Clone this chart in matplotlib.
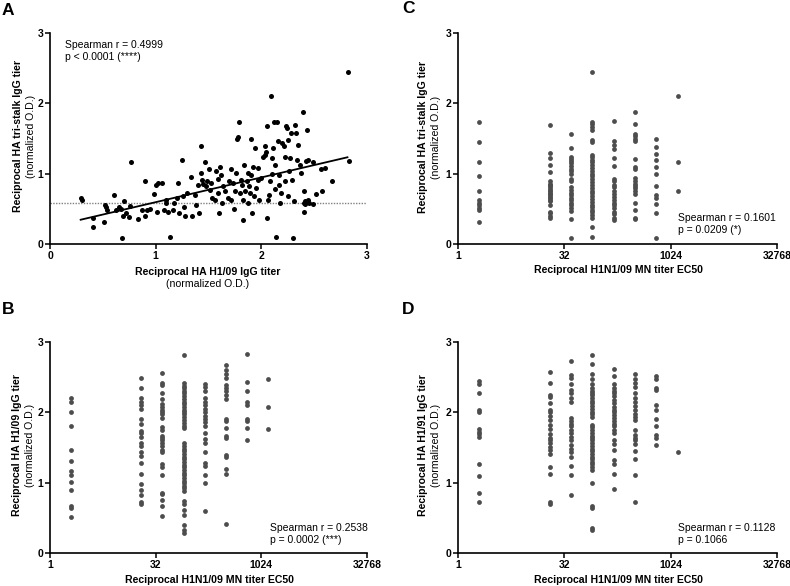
import matplotlib
matplotlib.use('Agg')
import matplotlib.pyplot as plt

plt.rcParams['font.family'] = ['Liberation Sans', 'DejaVu Sans']

# ---- panel A: tri-stalk vs H1/09 (normalized O.D.)
a_x = [0.29, 0.30, 0.41, 0.41, 0.51, 0.52, 0.53, 0.54, 0.61, 0.62, 0.65, 0.67, 0.68, 0.69,
       0.70, 0.72, 0.75, 0.77, 0.76, 0.83, 0.87, 0.90, 0.90, 0.92, 0.95, 0.98, 1.00, 1.02,
       1.01, 1.06, 1.08, 1.10, 1.10, 1.12, 1.14, 1.16, 1.17, 1.20, 1.21, 1.22, 1.25, 1.26,
       1.27, 1.28, 1.30, 1.33, 1.34, 1.37, 1.38, 1.40, 1.41, 1.43, 1.43, 1.44, 1.45, 1.47,
       1.48, 1.49, 1.50, 1.51, 1.52, 1.53, 1.56, 1.57, 1.59, 1.59, 1.60, 1.61, 1.62, 1.63,
       1.64, 1.66, 1.68, 1.69, 1.71, 1.71, 1.73, 1.74, 1.75, 1.76, 1.77, 1.78, 1.79, 1.80,
       1.81, 1.82, 1.83, 1.83, 1.84, 1.85, 1.86, 1.87, 1.87, 1.88, 1.89, 1.90, 1.90, 1.91,
       1.92, 1.93, 1.94, 1.95, 1.97, 1.97, 1.98, 2.00, 2.02, 2.03, 2.03, 2.04, 2.05, 2.05,
       2.06, 2.07, 2.08, 2.09, 2.10, 2.10, 2.11, 2.12, 2.13, 2.13, 2.14, 2.15, 2.16, 2.17,
       2.17, 2.18, 2.19, 2.20, 2.21, 2.22, 2.22, 2.23, 2.24, 2.25, 2.25, 2.26, 2.27, 2.28,
       2.29, 2.30, 2.31, 2.32, 2.33, 2.34, 2.35, 2.37, 2.38, 2.39, 2.40, 2.40, 2.40, 2.41,
       2.41, 2.42, 2.43, 2.44, 2.44, 2.45, 2.49, 2.49, 2.52, 2.56, 2.57, 2.60, 2.67, 2.82,
       2.83]
a_y = [0.66, 0.63, 0.37, 0.24, 0.31, 0.56, 0.52, 0.48, 0.69, 0.49, 0.53, 0.50, 0.08, 0.40,
       0.61, 0.44, 0.39, 1.16, 0.54, 0.35, 0.48, 0.90, 0.40, 0.48, 0.50, 0.71, 0.84, 0.87,
       0.45, 0.87, 0.49, 0.58, 0.63, 0.45, 0.095, 0.49, 0.59, 0.65, 0.87, 0.44, 1.19, 0.68,
       0.53, 0.40, 0.72, 0.95, 0.40, 0.69, 0.56, 0.84, 0.44, 1.01, 1.40, 0.91, 0.86, 1.16,
       0.82, 0.89, 1.06, 0.77, 0.87, 0.65, 0.63, 1.04, 0.92, 0.73, 0.44, 1.10, 0.98, 0.58,
       0.82, 0.76, 0.65, 0.89, 1.06, 0.63, 0.87, 0.50, 0.76, 1.01, 1.50, 1.52, 1.73, 0.72,
       0.91, 0.84, 0.34, 0.63, 1.13, 0.75, 0.89, 1.01, 0.58, 0.82, 0.72, 1.49, 0.98, 0.44,
       1.10, 0.68, 1.36, 0.79, 0.91, 1.08, 0.63, 0.94, 1.24, 1.27, 1.39, 1.31, 0.37, 1.68,
       0.63, 0.70, 0.89, 2.10, 1.00, 1.22, 1.36, 1.73, 1.13, 0.78, 0.10, 1.74, 1.46, 0.84,
       0.98, 0.58, 0.72, 1.43, 1.39, 1.24, 0.89, 1.68, 1.65, 0.68, 1.48, 1.04, 1.22, 1.58,
       0.91, 0.085, 0.61, 1.69, 1.58, 1.20, 1.41, 1.13, 1.01, 1.88, 0.58, 0.75, 0.46, 0.61,
       0.57, 1.18, 1.62, 1.19, 0.63, 0.58, 1.16, 0.57, 0.71, 1.06, 0.76, 1.08, 0.89, 2.44,
       1.18]
a_fit_x = [0.29, 2.815]
a_fit_y = [0.345, 1.233]
a_cutoff = 0.587

# ---- MN titer columns (x) used in B, C, D
titers = [2, 20, 40, 80, 160, 320, 640, 1280]

# panel B: H1/09 IgG vs MN titer
b_cols = [
    [2.20, 2.14, 2.00, 1.80, 1.46, 1.31, 1.16, 1.11, 1.01, 0.90, 0.67, 0.64, 0.51],
    [2.49, 2.34, 2.20, 2.15, 2.10, 2.05, 1.90, 1.83, 1.74, 1.70, 1.65, 1.56, 1.52, 1.43,
     1.38, 1.28, 1.12, 0.98, 0.90, 0.82, 0.72, 0.69],
    [2.56, 2.42, 2.39, 2.27, 2.19, 2.12, 2.08, 2.04, 2.00, 1.97, 1.92, 1.79, 1.75, 1.67,
     1.63, 1.60, 1.56, 1.52, 1.47, 1.43, 1.26, 1.22, 1.11, 0.86, 0.84, 0.76, 0.67, 0.52],
    [2.82, 2.42, 2.38, 2.34, 2.31, 2.27, 2.23, 2.19, 2.15, 2.12, 2.08, 2.04, 2.00, 1.97,
     1.93, 1.89, 1.85, 1.81, 1.78, 1.56, 1.52, 1.48, 1.45, 1.41, 1.37, 1.33, 1.29, 1.25,
     1.22, 1.18, 1.14, 1.11, 1.07, 1.03, 0.99, 0.95, 0.92, 0.88, 0.74, 0.70, 0.61, 0.54,
     0.40, 0.32, 0.29],
    [2.40, 2.36, 2.31, 2.20, 2.14, 2.10, 2.05, 2.00, 1.95, 1.90, 1.86, 1.80, 1.70, 1.62,
     1.57, 1.43, 1.28, 1.23, 1.11, 1.00, 0.60],
    [2.68, 2.60, 2.55, 2.49, 2.39, 2.34, 2.30, 2.25, 2.19, 1.91, 1.87, 1.78, 1.67, 1.63,
     1.40, 1.37, 1.20, 1.13, 0.41],
    [2.83, 2.43, 2.30, 2.15, 2.10, 1.91, 1.88, 1.78, 1.60],
    [2.48, 2.07, 1.76],
]

# panel C: tri-stalk IgG vs MN titer
c_cols = [
    [1.73, 1.45, 1.16, 0.96, 0.75, 0.63, 0.59, 0.55, 0.51, 0.48, 0.31],
    [1.69, 1.29, 1.22, 1.12, 1.02, 0.90, 0.86, 0.84, 0.82, 0.80, 0.77, 0.75, 0.73, 0.71,
     0.69, 0.67, 0.65, 0.63, 0.61, 0.56, 0.46, 0.44, 0.40, 0.37],
    [1.57, 1.36, 1.23, 1.21, 1.18, 1.15, 1.11, 1.07, 1.04, 1.00, 0.92, 0.89, 0.81, 0.77,
     0.73, 0.70, 0.66, 0.62, 0.58, 0.55, 0.51, 0.47, 0.35, 0.085],
    [2.45, 1.74, 1.71, 1.67, 1.62, 1.48, 1.45, 1.27, 1.24, 1.20, 1.16, 1.12, 1.08, 1.04,
     1.00, 0.96, 0.92, 0.88, 0.84, 0.80, 0.75, 0.72, 0.68, 0.64, 0.60, 0.56, 0.53, 0.49,
     0.45, 0.41, 0.37, 0.24, 0.095],
    [1.75, 1.46, 1.41, 1.35, 1.22, 1.11, 0.92, 0.89, 0.84, 0.81, 0.76, 0.71, 0.67, 0.63,
     0.59, 0.55, 0.51, 0.46, 0.42, 0.37, 0.34],
    [1.88, 1.70, 1.56, 1.53, 1.49, 1.46, 1.21, 1.10, 1.06, 0.94, 0.90, 0.86, 0.82, 0.79,
     0.75, 0.71, 0.58, 0.49, 0.37, 0.35],
    [1.49, 1.38, 1.28, 1.19, 1.09, 0.99, 0.82, 0.70, 0.66, 0.57, 0.44, 0.08],
    [2.10, 1.16, 0.75],
]

# panel D: H1/91 IgG vs MN titer
d_cols = [
    [2.45, 2.40, 2.28, 2.03, 2.00, 1.76, 1.72, 1.69, 1.65, 1.26, 1.10, 0.86, 0.73],
    [2.58, 2.42, 2.25, 2.22, 2.13, 2.04, 2.00, 1.95, 1.89, 1.82, 1.76, 1.69, 1.64, 1.61,
     1.56, 1.51, 1.47, 1.41, 1.22, 1.12, 0.73, 0.69],
    [2.73, 2.53, 2.49, 2.40, 2.32, 2.27, 2.20, 2.15, 1.92, 1.88, 1.84, 1.80, 1.75, 1.70,
     1.65, 1.61, 1.54, 1.48, 1.43, 1.37, 1.24, 1.11, 0.82],
    [2.81, 2.69, 2.55, 2.47, 2.40, 2.35, 2.31, 2.28, 2.24, 2.20, 2.16, 2.13, 2.09, 2.05,
     2.01, 1.97, 1.94, 1.82, 1.79, 1.75, 1.71, 1.67, 1.63, 1.60, 1.56, 1.52, 1.48, 1.45,
     1.41, 1.37, 1.33, 1.29, 1.26, 1.22, 1.18, 1.00, 0.67, 0.64, 0.36, 0.33],
    [2.62, 2.51, 2.40, 2.35, 2.31, 2.27, 2.23, 2.17, 2.13, 2.08, 2.04, 2.00, 1.96, 1.92,
     1.88, 1.83, 1.80, 1.75, 1.70, 1.60, 1.55, 1.47, 1.32, 1.26, 1.12, 0.91],
    [2.55, 2.47, 2.42, 2.36, 2.27, 2.21, 2.14, 2.09, 2.03, 1.98, 1.94, 1.89, 1.75, 1.68,
     1.63, 1.60, 1.55, 1.45, 1.33, 1.11, 0.73],
    [2.52, 2.48, 2.35, 2.32, 2.10, 2.04, 1.90, 1.80, 1.68, 1.63, 1.53],
    [1.43],
]

W, H = 790, 586
fig = plt.figure(figsize=(W / 100, H / 100), dpi=100)


def rect(l, t, r, b):
    return [l / W, 1 - b / H, (r - l) / W, (b - t) / H]


def fxy(x, y):
    return x / W, 1 - y / H


def style(ax):
    for s in ('top', 'right'):
        ax.spines[s].set_visible(False)
    for s in ('left', 'bottom'):
        ax.spines[s].set_linewidth(1.2)
    ax.tick_params(direction='out', length=3.5, width=1.1, labelsize=7.5, pad=1.5)
    for lab in ax.get_xticklabels() + ax.get_yticklabels():
        lab.set_fontweight('bold')
    ax.set_ylim(0, 3)
    ax.set_yticks([0, 1, 2, 3])
    ax.set_facecolor('none')


def titer_axis(ax):
    ax.set_xscale('log', base=2)
    ax.set_xlim(1, 32768)
    ax.set_xticks([1, 32, 1024, 32768])
    ax.set_xticklabels(['1', '32', '1024', '32768'])
    ax.minorticks_off()


def columns(ax, cols):
    for t, vals in zip(titers, cols):
        ax.scatter([t] * len(vals), vals, s=12, color='#4d4d4d', linewidths=0,
                   clip_on=False, zorder=3)


# panel A
axA = fig.add_axes(rect(50, 33, 367, 244))
axA.scatter(a_x, a_y, s=13, color='black', linewidths=0, clip_on=False, zorder=3)
axA.plot(a_fit_x, a_fit_y, color='black', lw=1.3, zorder=4)
axA.plot([0, 3], [a_cutoff, a_cutoff], color='#808080', lw=1.0, ls=(0, (1, 1)), zorder=2)
axA.set_xlim(0, 3)
axA.set_xticks([0, 1, 2, 3])
style(axA)
axA.text(0.048, 0.965, 'Spearman r = 0.4999\np < 0.0001 (****)', transform=axA.transAxes,
         ha='left', va='top', fontsize=7.5, linespacing=1.15)

# panel C
axC = fig.add_axes(rect(458, 33, 777, 244))
titer_axis(axC)
columns(axC, c_cols)
style(axC)
axC.text(0.69, 0.145, 'Spearman r = 0.1601\np = 0.0209 (*)', transform=axC.transAxes,
         ha='left', va='top', fontsize=7.5, linespacing=1.15)

# panel B
axB = fig.add_axes(rect(50, 342, 367, 553))
titer_axis(axB)
columns(axB, b_cols)
style(axB)
axB.text(0.694, 0.14, 'Spearman r = 0.2538\np = 0.0002 (***)', transform=axB.transAxes,
         ha='left', va='top', fontsize=7.5, linespacing=1.15)

# panel D
axD = fig.add_axes(rect(458, 342, 777, 553))
titer_axis(axD)
columns(axD, d_cols)
style(axD)
axD.text(0.69, 0.14, 'Spearman r = 0.1128\np = 0.1066', transform=axD.transAxes,
         ha='left', va='top', fontsize=7.5, linespacing=1.15)

# axis labels
lab_kw = dict(fontsize=7.6, ha='center', va='center')
fig.text(*fxy(208, 272), 'Reciprocal HA H1/09 IgG titer', fontweight='bold', **lab_kw)
fig.text(*fxy(208, 284), '(normalized O.D.)', **lab_kw)
fig.text(*fxy(618, 270), 'Reciprocal H1N1/09 MN titer EC50', fontweight='bold', **lab_kw)
fig.text(*fxy(210, 580), 'Reciprocal H1N1/09 MN titer EC50', fontweight='bold', **lab_kw)
fig.text(*fxy(618, 580), 'Reciprocal H1N1/09 MN titer EC50', fontweight='bold', **lab_kw)

fig.text(*fxy(18, 136), 'Reciprocal HA tri-stalk IgG tier', fontweight='bold', rotation=90, **lab_kw)
fig.text(*fxy(31, 136), '(normalized O.D.)', rotation=90, **lab_kw)
fig.text(*fxy(423, 137), 'Reciprocal HA tri-stalk IgG tier', fontweight='bold', rotation=90, **lab_kw)
fig.text(*fxy(436, 137), '(normalized O.D.)', rotation=90, **lab_kw)
fig.text(*fxy(17.5, 445), 'Reciprocal HA H1/09 IgG tier', fontweight='bold', rotation=90, **lab_kw)
fig.text(*fxy(30.5, 445), '(normalized O.D.)', rotation=90, **lab_kw)
fig.text(*fxy(423, 445), 'Reciprocal HA H1/91 IgG tier', fontweight='bold', rotation=90, **lab_kw)
fig.text(*fxy(436, 445), '(normalized O.D.)', rotation=90, **lab_kw)

# panel letters
let_kw = dict(fontsize=12.5, fontweight='bold', ha='left', va='top')
fig.text(*fxy(2, 3), 'A', **let_kw)
fig.text(*fxy(402, 1), 'C', **let_kw)
fig.text(*fxy(2, 302), 'B', **let_kw)
fig.text(*fxy(402, 302), 'D', **let_kw)

fig.savefig('out.png', dpi=100, facecolor='white')
